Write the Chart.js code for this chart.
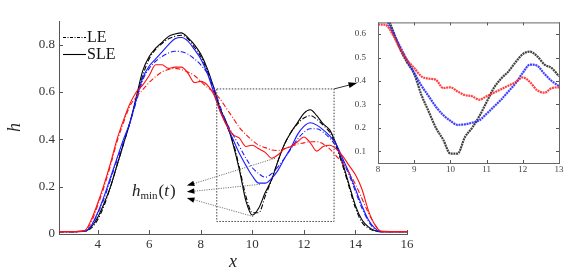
<!DOCTYPE html>
<html>
<head>
<meta charset="utf-8">
<script src="https://cdn.jsdelivr.net/npm/chart.js@4/dist/chart.umd.min.js"></script>
<style>
  html, body { margin: 0; padding: 0; background: #fff; }
  #wrap { position: relative; width: 581px; height: 277px; }
  #main { position: absolute; left: 0; top: 0; }
  #inset { position: absolute; left: 350px; top: 5px; }
</style>
</head>
<body>
<div id="wrap">
  <canvas id="main" width="581" height="277"></canvas>
  <canvas id="inset" width="225" height="185"></canvas>
</div>
<script>
// main panel
const xs = [2.5, 3, 3.5, 3.75, 4, 4.25, 4.5, 4.75, 5, 5.25, 5.5, 5.75, 6, 6.25, 6.5, 6.75, 7, 7.25, 7.5, 7.75,
            8, 8.25, 8.5, 8.75, 9, 9.25, 9.5, 9.75, 10, 10.25, 10.5, 10.75, 11, 11.25, 11.5, 11.75, 12, 12.25,
            12.5, 12.75, 13, 13.25, 13.5, 13.75, 14, 14.25, 14.5, 14.75, 15, 15.5, 16];

const sleBlack = [0.01, 0.01, 0.012, 0.03, 0.07, 0.13, 0.2, 0.29, 0.38, 0.47, 0.58, 0.69, 0.75, 0.785, 0.81, 0.835, 0.845, 0.85, 0.83, 0.8,
                  0.76, 0.7, 0.62, 0.53, 0.47, 0.38, 0.27, 0.14, 0.08, 0.11, 0.175, 0.23, 0.31, 0.38, 0.43, 0.47, 0.51, 0.525,
                  0.5, 0.465, 0.44, 0.38, 0.3, 0.21, 0.12, 0.06, 0.03, 0.015, 0.01, 0.01, 0.01];
const leBlack = [0.01, 0.01, 0.012, 0.025, 0.06, 0.12, 0.2, 0.29, 0.38, 0.47, 0.57, 0.67, 0.74, 0.78, 0.805, 0.825, 0.835, 0.84, 0.825, 0.79,
                 0.75, 0.69, 0.61, 0.53, 0.46, 0.39, 0.28, 0.16, 0.09, 0.09, 0.16, 0.23, 0.31, 0.38, 0.43, 0.465, 0.49, 0.5,
                 0.485, 0.46, 0.43, 0.37, 0.29, 0.2, 0.11, 0.05, 0.025, 0.012, 0.01, 0.01, 0.01];
const sleBlue = [0.01, 0.01, 0.012, 0.035, 0.09, 0.16, 0.24, 0.32, 0.4, 0.47, 0.57, 0.66, 0.71, 0.74, 0.77, 0.8, 0.825, 0.83, 0.815, 0.78,
                 0.74, 0.68, 0.6, 0.52, 0.46, 0.4, 0.34, 0.29, 0.245, 0.215, 0.215, 0.235, 0.27, 0.32, 0.365, 0.42, 0.455, 0.47,
                 0.46, 0.44, 0.415, 0.38, 0.32, 0.26, 0.19, 0.12, 0.06, 0.025, 0.01, 0.01, 0.01];
const leBlue = [0.01, 0.01, 0.012, 0.035, 0.085, 0.15, 0.23, 0.31, 0.39, 0.47, 0.56, 0.65, 0.7, 0.73, 0.75, 0.765, 0.772, 0.77, 0.76, 0.74,
                0.715, 0.68, 0.62, 0.54, 0.47, 0.42, 0.37, 0.32, 0.28, 0.255, 0.24, 0.255, 0.285, 0.32, 0.36, 0.4, 0.43, 0.445,
                0.445, 0.43, 0.405, 0.37, 0.31, 0.25, 0.18, 0.11, 0.055, 0.02, 0.01, 0.01, 0.01];
const sleRed = [0.01, 0.01, 0.015, 0.06, 0.13, 0.21, 0.3, 0.4, 0.48, 0.55, 0.6, 0.63, 0.67, 0.715, 0.715, 0.7, 0.705, 0.705, 0.68, 0.64,
                0.645, 0.63, 0.59, 0.52, 0.46, 0.42, 0.405, 0.37, 0.375, 0.36, 0.345, 0.32, 0.335, 0.36, 0.37, 0.39, 0.41, 0.385,
                0.35, 0.37, 0.375, 0.36, 0.33, 0.29, 0.25, 0.19, 0.1, 0.04, 0.012, 0.01, 0.01];
const leRed = [0.01, 0.01, 0.015, 0.05, 0.12, 0.2, 0.29, 0.39, 0.47, 0.54, 0.58, 0.61, 0.64, 0.665, 0.685, 0.695, 0.7, 0.695, 0.685, 0.67,
               0.645, 0.62, 0.6, 0.57, 0.53, 0.49, 0.45, 0.42, 0.395, 0.375, 0.365, 0.355, 0.353, 0.36, 0.37, 0.38, 0.385, 0.39,
               0.39, 0.38, 0.36, 0.33, 0.3, 0.26, 0.21, 0.15, 0.09, 0.04, 0.01, 0.01, 0.01];

const xTicks = [4, 6, 8, 10, 12, 14, 16];
const yTicks = [0, 0.2, 0.4, 0.6, 0.8];
const legendLabels = ['LE', 'SLE'];

// zoomed panel
const insetXs = [8, 8.2, 8.4, 8.6, 8.8, 9, 9.2, 9.4, 9.6, 9.8, 10, 10.2, 10.4, 10.6, 10.8, 11, 11.2, 11.4, 11.6, 11.8, 12, 12.2, 12.4, 12.6, 12.8, 13];
const insetBlack = [0.78, 0.7, 0.62, 0.54, 0.48, 0.43, 0.34, 0.27, 0.2, 0.15, 0.09, 0.09, 0.16, 0.2, 0.25, 0.31, 0.37, 0.41, 0.44, 0.48, 0.515, 0.525, 0.505, 0.47, 0.455, 0.42];
const insetBlue = [0.72, 0.67, 0.61, 0.55, 0.49, 0.435, 0.38, 0.335, 0.29, 0.255, 0.23, 0.213, 0.215, 0.222, 0.232, 0.26, 0.29, 0.32, 0.355, 0.39, 0.435, 0.47, 0.465, 0.43, 0.4, 0.378];
const insetRed = [0.641, 0.64, 0.6, 0.54, 0.49, 0.455, 0.42, 0.41, 0.405, 0.37, 0.373, 0.355, 0.34, 0.335, 0.32, 0.335, 0.35, 0.365, 0.38, 0.395, 0.415, 0.395, 0.36, 0.35, 0.37, 0.373];
const insetXTicks = [8, 9, 10, 11, 12, 13];
const insetYTicks = [0.1, 0.2, 0.3, 0.4, 0.5, 0.6];

const SERIF = "'Liberation Serif', 'DejaVu Serif', serif";
const DASHDOT = [5, 2, 1, 2];

const pts = (xArr, yArr) => xArr.map((x, i) => ({ x: x, y: yArr[i] }));

function line(label, arr, color, dash) {
    return {
        label: label,
        data: pts(xs, arr),
        borderColor: color,
        borderWidth: 1.1,
        borderDash: dash,
        pointRadius: 0,
        cubicInterpolationMode: 'monotone',
        fill: false
    };
}

function inwardTicks(ctx, scales, len, mirror) {
    const { x, y } = scales;
    ctx.save();
    ctx.strokeStyle = '#555';
    ctx.lineWidth = 1;
    ctx.beginPath();
    x.ticks.forEach(t => {
        const px = Math.round(x.getPixelForValue(t.value)) + 0.5;
        ctx.moveTo(px, y.bottom); ctx.lineTo(px, y.bottom - len);
        if (mirror) { ctx.moveTo(px, y.top); ctx.lineTo(px, y.top + len); }
    });
    y.ticks.forEach(t => {
        const py = Math.round(y.getPixelForValue(t.value)) + 0.5;
        ctx.moveTo(x.left, py); ctx.lineTo(x.left + len, py);
        if (mirror) { ctx.moveTo(x.right, py); ctx.lineTo(x.right - len, py); }
    });
    ctx.stroke();
    ctx.restore();
}

function arrowHead(ctx, x0, y0, x1, y1, size) {
    const a = Math.atan2(y1 - y0, x1 - x0);
    ctx.beginPath();
    ctx.moveTo(x1, y1);
    ctx.lineTo(x1 - size * Math.cos(a - 0.35), y1 - size * Math.sin(a - 0.35));
    ctx.lineTo(x1 - size * Math.cos(a + 0.35), y1 - size * Math.sin(a + 0.35));
    ctx.closePath();
    ctx.fill();
}

const mainDecor = {
    id: 'mainDecor',
    afterDraw(chart) {
        const { ctx, scales } = chart;
        const { x, y } = scales;
        const X = v => x.getPixelForValue(v);
        const Y = v => y.getPixelForValue(v);

        inwardTicks(ctx, scales, 4, false);

        ctx.save();
        // dotted zoom box
        ctx.strokeStyle = '#444';
        ctx.lineWidth = 1;
        ctx.setLineDash([1.5, 1.5]);
        const bx0 = X(8.62), bx1 = X(13.17), by0 = Y(0.613), by1 = Y(0.053);
        ctx.strokeRect(bx0, by0, bx1 - bx0, by1 - by0);

        // arrow to inset
        ctx.setLineDash([]);
        ctx.strokeStyle = '#333';
        ctx.beginPath();
        ctx.moveTo(bx1, by0);
        ctx.lineTo(X(14.0), Y(0.636));
        ctx.stroke();
        ctx.fillStyle = '#000';
        arrowHead(ctx, bx1, by0, X(14.06), Y(0.638), 9);

        // h_min(t) pointers
        const tips = [[7.5, 0.205], [7.5, 0.178], [7.5, 0.152]];
        const ends = [[10.88, 0.32], [10.3, 0.21], [10.03, 0.074]];
        ctx.strokeStyle = '#777';
        ctx.setLineDash([1.2, 1.2]);
        tips.forEach((t, i) => {
            ctx.beginPath();
            ctx.moveTo(X(ends[i][0]), Y(ends[i][1]));
            ctx.lineTo(X(t[0]), Y(t[1]));
            ctx.stroke();
        });
        ctx.setLineDash([]);
        tips.forEach((t, i) => arrowHead(ctx, X(ends[i][0]), Y(ends[i][1]), X(t[0]) - 1, Y(t[1]), 8));

        // label
        ctx.fillStyle = '#222';
        ctx.textBaseline = 'alphabetic';
        ctx.font = 'italic 17px ' + SERIF;
        let tx = 132, ty = 196;
        ctx.fillText('h', tx, ty);
        tx += ctx.measureText('h').width;
        ctx.font = '11px ' + SERIF;
        ctx.fillText('min', tx, ty + 3);
        tx += ctx.measureText('min').width + 1;
        ctx.font = '17px ' + SERIF;
        ctx.fillText('(', tx, ty);
        tx += ctx.measureText('(').width;
        ctx.font = 'italic 17px ' + SERIF;
        ctx.fillText('t', tx, ty);
        tx += ctx.measureText('t').width + 1;
        ctx.font = '17px ' + SERIF;
        ctx.fillText(')', tx, ty);

        // legend
        ctx.strokeStyle = '#000';
        ctx.lineWidth = 1.1;
        ctx.font = '16px ' + SERIF;
        ctx.textBaseline = 'middle';
        ctx.fillStyle = '#111';
        legendLabels.forEach((lab, i) => {
            const ly = 37 + i * 17;
            ctx.setLineDash(i === 0 ? [3, 1.5, 1, 1.5] : []);
            ctx.beginPath();
            ctx.moveTo(63, ly + 0.5);
            ctx.lineTo(86, ly + 0.5);
            ctx.stroke();
            ctx.fillText(lab, 87, ly + 1);
        });
        ctx.restore();
    }
};

new Chart(document.getElementById('main'), {
    type: 'line',
    data: {
        datasets: [
            line('LE red', leRed, '#ff1010', DASHDOT),
            line('SLE red', sleRed, '#ff1010', []),
            line('LE blue', leBlue, '#1a1aff', DASHDOT),
            line('SLE blue', sleBlue, '#1a1aff', []),
            line('LE black', leBlack, '#000', DASHDOT),
            line('SLE black', sleBlack, '#000', [])
        ]
    },
    options: {
        responsive: false,
        animation: false,
        layout: { padding: { top: 21, right: 174, left: 0, bottom: 0 } },
        plugins: { legend: { display: false }, tooltip: { enabled: false } },
        scales: {
            x: {
                type: 'linear',
                min: 2.5,
                max: 16,
                afterBuildTicks: axis => { axis.ticks = xTicks.map(v => ({ value: v })); },
                afterFit: s => { s.height = 43; },
                grid: { display: false, drawTicks: false },
                border: { display: true, color: '#555', width: 1 },
                ticks: { color: '#333', padding: 3, font: { family: SERIF, size: 13 }, maxRotation: 0 },
                title: { display: true, text: 'x', color: '#222', padding: { top: 2 }, font: { family: SERIF, size: 18, style: 'italic' } }
            },
            y: {
                min: 0,
                max: 0.9,
                afterBuildTicks: axis => { axis.ticks = yTicks.map(v => ({ value: v })); },
                afterFit: s => { s.width = 59; },
                grid: { display: false, drawTicks: false },
                border: { display: true, color: '#555', width: 1 },
                ticks: { color: '#333', padding: 4, font: { family: SERIF, size: 13 } },
                title: { display: true, text: 'h', color: '#222', padding: { bottom: 4 }, font: { family: SERIF, size: 18, style: 'italic' } }
            }
        }
    },
    plugins: [mainDecor]
});

const insetFrame = {
    id: 'insetFrame',
    afterDraw(chart) {
        const { ctx, chartArea: a } = chart;
        inwardTicks(ctx, chart.scales, 3, true);
        ctx.save();
        ctx.strokeStyle = '#666';
        ctx.lineWidth = 1;
        ctx.strokeRect(a.left + 0.5, a.top + 0.5, a.right - a.left, a.bottom - a.top);
        ctx.restore();
    }
};

function dotted(label, arr, color) {
    return {
        label: label,
        data: pts(insetXs, arr),
        borderColor: color,
        borderWidth: 2.2,
        borderDash: [2, 0.7],
        pointRadius: 0,
        cubicInterpolationMode: 'monotone',
        fill: false
    };
}

new Chart(document.getElementById('inset'), {
    type: 'line',
    data: {
        datasets: [
            dotted('SLE red', insetRed, 'rgba(255,30,30,0.85)'),
            dotted('SLE blue', insetBlue, 'rgba(30,30,255,0.85)'),
            dotted('SLE black', insetBlack, 'rgba(20,20,20,0.8)')
        ]
    },
    options: {
        responsive: false,
        animation: false,
        layout: { padding: { top: 16, right: 16, left: 0, bottom: 0 } },
        plugins: { legend: { display: false }, tooltip: { enabled: false } },
        scales: {
            x: {
                type: 'linear',
                min: 8,
                max: 13,
                afterBuildTicks: axis => { axis.ticks = insetXTicks.map(v => ({ value: v })); },
                afterFit: s => { s.height = 27; },
                grid: { display: false, drawTicks: false },
                border: { display: false },
                ticks: { color: '#444', padding: 1, font: { family: SERIF, size: 9 }, maxRotation: 0 }
            },
            y: {
                min: 0.05,
                max: 0.65,
                afterBuildTicks: axis => { axis.ticks = insetYTicks.map(v => ({ value: v })); },
                afterFit: s => { s.width = 28; },
                grid: { display: false, drawTicks: false },
                border: { display: false },
                ticks: { color: '#444', padding: 12, font: { family: SERIF, size: 9 } }
            }
        }
    },
    plugins: [insetFrame]
});
</script>
</body>
</html>
